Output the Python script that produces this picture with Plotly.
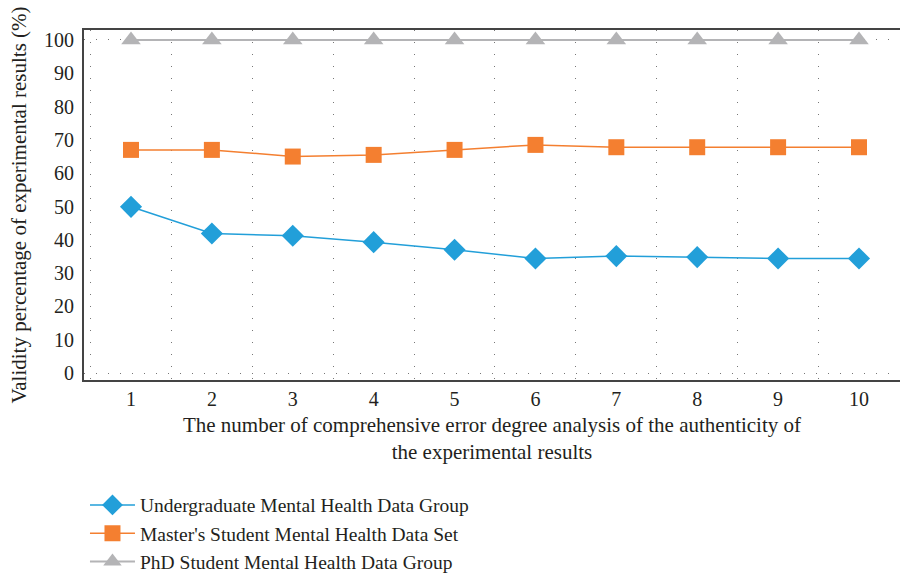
import plotly.graph_objects as go

x_vals = [1, 2, 3, 4, 5, 6, 7, 8, 9, 10]
undergrad = [49.9, 41.9, 41.2, 39.3, 37.0, 34.4, 35.1, 34.8, 34.4, 34.4]
masters = [67.0, 67.0, 65.0, 65.5, 67.0, 68.5, 67.8, 67.8, 67.8, 67.8]
phd = [100, 100, 100, 100, 100, 100, 100, 100, 100, 100]

names = ["Undergraduate Mental Health Data Group",
         "Master's Student Mental Health Data Set",
         "PhD Student Mental Health Data Group"]
y_ticks = [0, 10, 20, 30, 40, 50, 60, 70, 80, 90, 100]
x_grid = [0.5, 1.5, 2.5, 3.5, 4.5, 5.5, 6.5, 7.5, 8.5, 9.5, 10.5]

FONT = "Liberation Serif"
TXT = "#231f20"

fig = go.Figure()
fig.add_trace(go.Scatter(x=x_vals, y=undergrad, name=names[0], mode="lines+markers",
                         line=dict(color="#229fd9", width=1.5),
                         marker=dict(symbol="diamond", size=17, color="#229fd9")))
fig.add_trace(go.Scatter(x=x_vals, y=masters, name=names[1], mode="lines+markers",
                         line=dict(color="#f47f30", width=1.5),
                         marker=dict(symbol="square", size=16, color="#f47f30")))
fig.add_trace(go.Scatter(x=x_vals, y=phd, name=names[2], mode="lines+markers",
                         line=dict(color="#b4b4b6", width=2),
                         marker=dict(symbol="triangle-up", size=17, color="#b4b4b6")))

fig.update_layout(
    width=900, height=573,
    margin=dict(l=84, r=0, t=30, b=193, autoexpand=False),
    plot_bgcolor="white", paper_bgcolor="white",
    font=dict(family=FONT, size=20, color=TXT),
    showlegend=True,
    legend=dict(x=0.0012, y=-0.302, xanchor="left", yanchor="top", itemwidth=45,
                font=dict(family=FONT, size=19.5, color=TXT),
                bgcolor="rgba(0,0,0,0)", tracegroupgap=0),
    xaxis=dict(range=[0.419, 10.507], tickvals=x_vals, ticktext=[str(v) for v in x_vals],
               showgrid=False, zeroline=False, showline=True, linecolor="#444444",
               linewidth=2, mirror=True, ticks="", automargin=False,
               tickfont=dict(size=20), ticklabelstandoff=0,
               minor=dict(tickvals=x_grid, showgrid=True, gridcolor="#777777",
                          gridwidth=1, griddash="1px,11px", ticks=""),
               title=dict(text="The number of comprehensive error degree analysis of the authenticity of<br>the experimental results",
                          font=dict(size=21), standoff=8)),
    yaxis=dict(range=[-2.1, 103], tickvals=y_ticks, showgrid=False, zeroline=False,
               showline=True, linecolor="#444444", linewidth=2, ticks="",
               automargin=False, tickfont=dict(size=20), ticklabelstandoff=4,
               minor=dict(tickvals=[0, 100], showgrid=True, gridcolor="#777777",
                          gridwidth=1, griddash="1px,11px", ticks=""),
               title=dict(text="Validity percentage of experimental results (%)",
                          font=dict(size=21), standoff=12)),
)

# remove the default 8px body margin so the figure fills the window exactly
fig.write_html("out.html", config={"displayModeBar": False},
               post_script="document.body.style.margin='0px';")
